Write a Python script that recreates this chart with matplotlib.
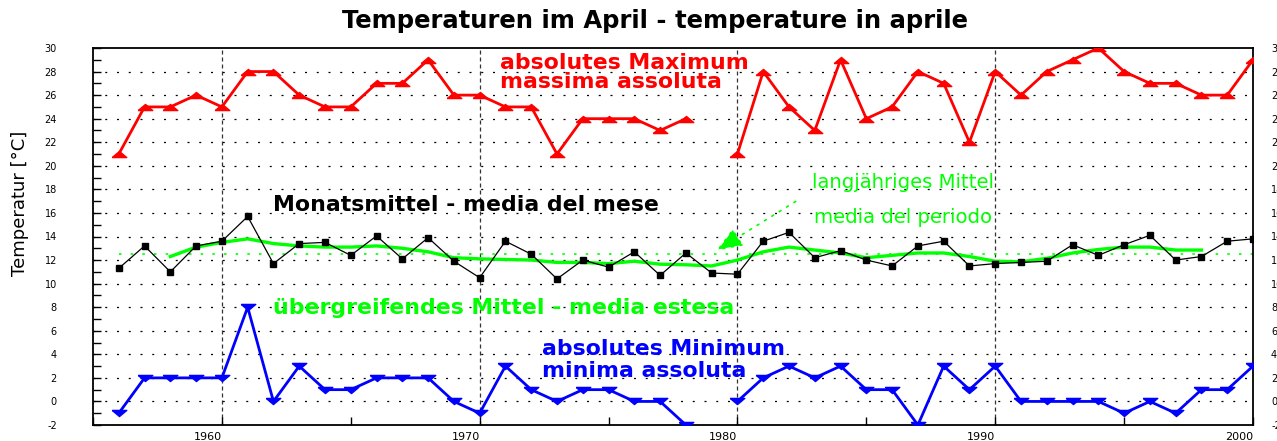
import numpy as np
import matplotlib
matplotlib.use('Agg')
import matplotlib.pyplot as plt
from matplotlib.ticker import MultipleLocator

plt.rcParams['axes.unicode_minus'] = False

nan = np.nan
years = np.arange(1956, 2001)

# absolute maximum per year (1979 missing)
t_max = [21, 25, 25, 26, 25, 28, 28, 26, 25, 25, 27, 27, 29, 26, 26,
         25, 25, 21, 24, 24, 24, 23, 24, nan, 21, 28, 25, 23, 29, 24,
         25, 28, 27, 22, 28, 26, 28, 29, 30, 28, 27, 27, 26, 26, 29]
# absolute minimum per year
t_min = [-1, 2, 2, 2, 2, 8, 0, 3, 1, 1, 2, 2, 2, 0, -1,
         3, 1, 0, 1, 1, 0, 0, -2, nan, 0, 2, 3, 2, 3, 1,
         1, -2, 3, 1, 3, 0, 0, 0, 0, -1, 0, -1, 1, 1, 3]
# monthly mean
t_mean = [11.3, 13.2, 11.0, 13.2, 13.6, 15.7, 11.7, 13.4, 13.5, 12.4, 14.05, 12.1, 13.9, 11.9, 10.5,
          13.6, 12.5, 10.4, 12.0, 11.4, 12.7, 10.7, 12.6, 10.9, 10.8, 13.6, 14.35, 12.2, 12.8, 12.0,
          11.5, 13.2, 13.6, 11.5, 11.7, 11.8, 11.9, 13.3, 12.4, 13.3, 14.1, 12.0, 12.3, 13.6, 13.8]
# overlapping mean (1958-1998)
smooth_years = np.arange(1958, 1999)
t_smooth = [12.3, 13.1, 13.5, 13.8, 13.4, 13.2, 13.1, 13.1, 13.2, 13.0, 12.7, 12.2, 12.1,
            12.05, 12.0, 11.8, 11.8, 11.7, 11.9, 11.65, 11.6, 11.5, 12.0, 12.7, 13.1, 12.85,
            12.6, 12.2, 12.4, 12.6, 12.6, 12.3, 11.9, 11.85, 12.15, 12.6, 12.9, 13.1, 13.1,
            12.85, 12.85]
long_term_mean = 12.5

red = '#ff0000'
blue = '#0000ff'
green = '#00ff00'

# flat triangles like in the original
up_tri = [(-1, -0.42), (1, -0.42), (0, 0.42), (-1, -0.42)]
down_tri = [(-1, 0.42), (1, 0.42), (0, -0.42), (-1, 0.42)]

fig = plt.figure(figsize=(12.77, 4.41), dpi=100)
ax = fig.add_axes([93/1277, 1-425/441, 1160/1277, 377/441])

ax.set_xlim(1955, 2000)
ax.set_ylim(-2, 30)

# grid
for y in range(0, 30, 2):
    ax.axhline(y, color='black', lw=0.9, linestyle=(0, (1.6, 7.8)), zorder=1)
for x in range(1960, 2000, 10):
    ax.axvline(x, color='#333333', lw=0.9, linestyle=(0, (3.2, 2.4)), zorder=1)

ax.plot([years[0], years[-1]], [long_term_mean, long_term_mean], color=green,
        lw=1.2, linestyle=(0, (1.5, 5.5)), zorder=2)

ax.plot(years, t_max, color=red, lw=2.0, marker=up_tri, ms=10.5, zorder=4)
ax.plot(years, t_min, color=blue, lw=2.0, marker=down_tri, ms=10.5, zorder=4)
ax.plot(smooth_years, t_smooth, color=green, lw=2.4, zorder=3)
ax.plot(years, t_mean, color='black', lw=0.9, marker='s', ms=3.8, zorder=5)

# labels in the plot
bold = dict(fontsize=15.8, fontweight='bold', va='center', ha='left', family='DejaVu Sans')
ax.text(1970.77, 28.73, 'absolutes Maximum', color=red, **bold)
ax.text(1970.77, 27.11, 'massima assoluta', color=red, **bold)
ax.text(1961.98, 16.67, 'Monatsmittel - media del mese', color='black', **bold)
ax.text(1961.98, 7.93, 'übergreifendes Mittel - media estesa', color=green, **bold)
ax.text(1972.4, 4.45, 'absolutes Minimum', color=blue, **bold)
ax.text(1972.4, 2.58, 'minima assoluta', color=blue, **bold)

ax.text(1986.43, 18.62, 'langjähriges Mittel', color=green, fontsize=14.1, ha='center', va='center')
ax.text(1986.43, 15.65, 'media del periodo', color=green, fontsize=14.1, ha='center', va='center')
ax.annotate('', xy=(1979.09, 12.68), xytext=(1982.35, 17.1),
            arrowprops=dict(arrowstyle='-|>,head_length=0.9,head_width=0.35', color=green,
                            lw=1.2, linestyle=(0, (1.2, 4)), mutation_scale=18))

# axes styling
ax.xaxis.set_major_locator(MultipleLocator(10))
ax.xaxis.set_minor_locator(MultipleLocator(5))
ax.yaxis.set_major_locator(MultipleLocator(2))
ax.yaxis.set_minor_locator(MultipleLocator(1))
ax.tick_params(axis='y', which='both', direction='in', left=True, right=True,
               length=6, width=1, labelsize=7, pad=26)
ax.tick_params(axis='x', which='both', direction='in', length=6, width=1, labelsize=8, pad=5)
for lab in ax.get_xticklabels():
    lab.set_horizontalalignment('right')
for sp in ax.spines.values():
    sp.set_linewidth(1.3)

# right-hand labels, partly cut by the figure edge as in the original
ax2 = ax.twinx()
ax2.set_ylim(-2, 30)
ax2.yaxis.set_major_locator(MultipleLocator(2))
ax2.tick_params(axis='y', which='both', length=0, labelsize=7, pad=13)
for sp in ax2.spines.values():
    sp.set_visible(False)

fig.text(20/1277, 1-203/441, 'Temperatur [°C]', rotation=90, ha='center', va='center', fontsize=13)
fig.text(655/1277, 1-21/441, 'Temperaturen im April - temperature in aprile',
         ha='center', va='center', fontsize=17.5, fontweight='bold')

fig.savefig('out.png', dpi=100)
